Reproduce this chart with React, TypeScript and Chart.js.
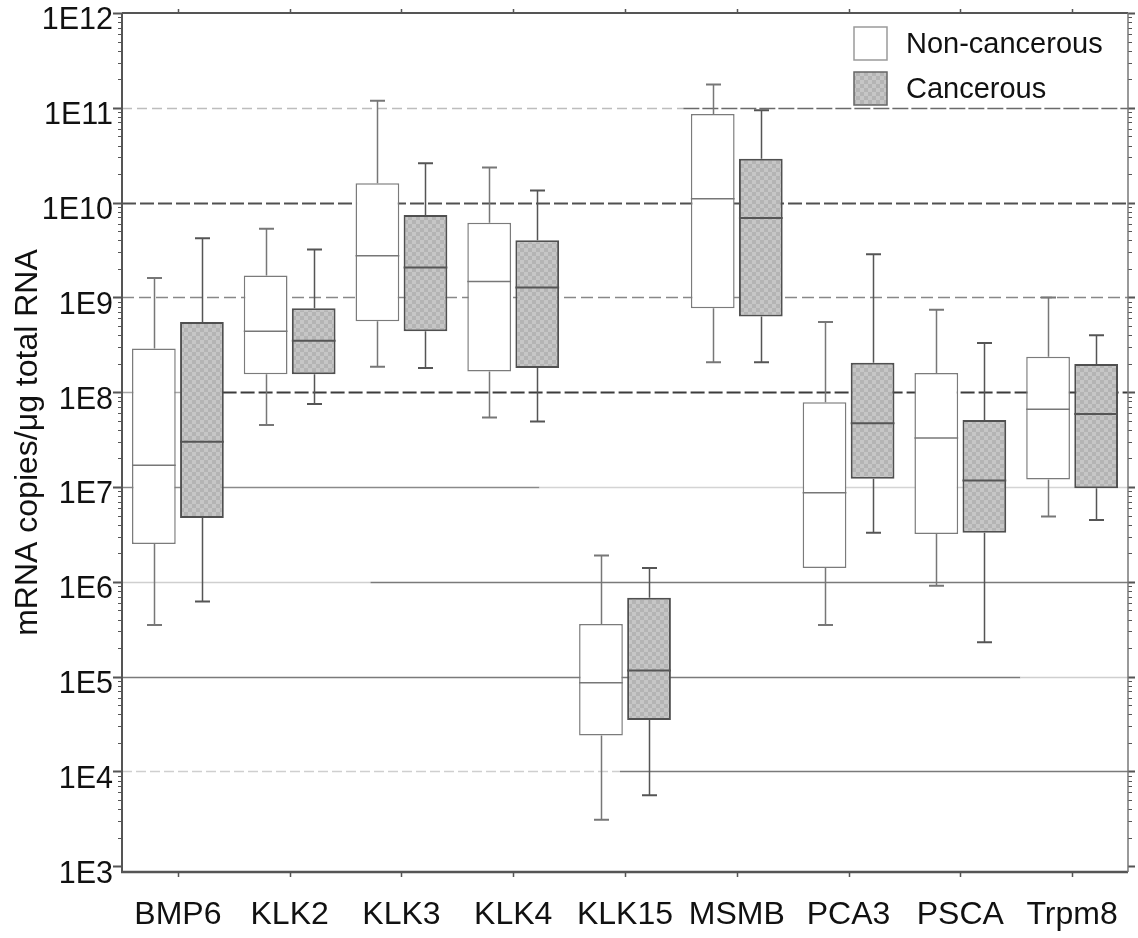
import { useEffect, useRef } from "react";
import { Chart, registerables } from "chart.js";

Chart.register(...registerables);

// ---------- data ----------
const categories = ["BMP6", "KLK2", "KLK3", "KLK4", "KLK15", "MSMB", "PCA3", "PSCA", "Trpm8"];
const seriesLabels = ["Non-cancerous", "Cancerous"];

// Non-cancerous: whisker low, Q1, median, Q3, whisker high
const nonLow = [3.5e5, 4.5e7, 1.86e8, 5.4e7, 3.1e3, 2.07e8, 3.5e5, 9.1e5, 4.9e6];
const nonQ1 = [2.5e6, 1.55e8, 5.6e8, 1.65e8, 2.4e4, 7.7e8, 1.4e6, 3.2e6, 1.2e7];
const nonMedian = [1.7e7, 4.4e8, 2.75e9, 1.47e9, 8.6e4, 1.1e10, 8.7e6, 3.3e7, 6.6e7];
const nonQ3 = [2.9e8, 1.7e9, 1.6e10, 6.15e9, 3.6e5, 8.6e10, 7.85e7, 1.6e8, 2.36e8];
const nonHigh = [1.6e9, 5.3e9, 1.19e11, 2.35e10, 1.9e6, 1.76e11, 5.5e8, 7.4e8, 1.0e9];

// Cancerous: whisker low, Q1, median, Q3, whisker high
const canLow = [6.2e5, 7.5e7, 1.8e8, 4.9e7, 5.6e3, 2.07e8, 3.3e6, 2.3e5, 4.5e6];
const canQ1 = [4.7e6, 1.55e8, 4.4e8, 1.8e8, 3.5e4, 6.3e8, 1.22e7, 3.3e6, 9.7e6];
const canMedian = [3.0e7, 3.5e8, 2.07e9, 1.27e9, 1.16e5, 6.9e9, 4.7e7, 1.17e7, 5.9e7];
const canQ3 = [5.5e8, 7.7e8, 7.4e9, 4.0e9, 6.8e5, 2.9e10, 2.05e8, 5.1e7, 1.98e8];
const canHigh = [4.2e9, 3.2e9, 2.6e10, 1.34e10, 1.4e6, 9.4e10, 2.85e9, 3.3e8, 4.0e8];

const yTickValues = [1e3, 1e4, 1e5, 1e6, 1e7, 1e8, 1e9, 1e10, 1e11, 1e12];
const yTickLabels = ["1E3", "1E4", "1E5", "1E6", "1E7", "1E8", "1E9", "1E10", "1E11", "1E12"];
const yAxisTitle = "mRNA copies/\u03bcg total RNA";
const yAxisMin = 870;
const yAxisMax = 1e12;

// ---------- styles ----------
const FONT = '"Liberation Sans", Arial, Helvetica, sans-serif';
type Seg = { from: number; to: number; color: string; dash: number[]; width: number };
const gridStyles: Record<number, Seg[]> = {
  4: [
    { from: 0, to: 0.495, color: "#cfcfcf", dash: [10, 4], width: 1.5 },
    { from: 0.495, to: 1, color: "#7a7a7a", dash: [], width: 1.5 },
  ],
  5: [
    { from: 0, to: 0.893, color: "#7a7a7a", dash: [], width: 1.5 },
    { from: 0.893, to: 1, color: "#cfcfcf", dash: [], width: 1.5 },
  ],
  6: [
    { from: 0, to: 0.247, color: "#cfcfcf", dash: [], width: 1.5 },
    { from: 0.247, to: 1, color: "#7a7a7a", dash: [], width: 1.5 },
  ],
  7: [
    { from: 0, to: 0.415, color: "#8a8a8a", dash: [], width: 1.5 },
    { from: 0.415, to: 1, color: "#d4d4d4", dash: [], width: 1.5 },
  ],
  8: [
    { from: 0, to: 0.1, color: "#a8a8a8", dash: [12, 4], width: 1.5 },
    { from: 0.1, to: 1, color: "#3c3c3c", dash: [14, 4], width: 2 },
  ],
  9: [{ from: 0, to: 1, color: "#888888", dash: [12, 5], width: 1.5 }],
  10: [{ from: 0, to: 1, color: "#505050", dash: [14, 4], width: 2 }],
  11: [
    { from: 0, to: 0.558, color: "#bdbdbd", dash: [10, 5], width: 1.5 },
    { from: 0.558, to: 1, color: "#6a6a6a", dash: [16, 3], width: 1.5 },
  ],
};

const seriesStats = [
  { low: nonLow, q1: nonQ1, median: nonMedian, q3: nonQ3, high: nonHigh, line: "#777777", lw: 1.5 },
  { low: canLow, q1: canQ1, median: canMedian, q3: canQ3, high: canHigh, line: "#555555", lw: 2 },
];

const boxDecor = {
  id: "boxDecor",
  beforeDatasetsDraw(chart: any) {
    const { ctx, chartArea, scales } = chart;
    const { left, right } = chartArea;
    const y = scales.y;
    ctx.save();
    Object.keys(gridStyles).forEach((k) => {
      const exp = Number(k);
      const py = Math.round(y.getPixelForValue(Math.pow(10, exp))) + 0.5;
      gridStyles[exp].forEach((s) => {
        ctx.beginPath();
        ctx.setLineDash(s.dash);
        ctx.strokeStyle = s.color;
        ctx.lineWidth = s.width;
        ctx.moveTo(left + s.from * (right - left), py);
        ctx.lineTo(left + s.to * (right - left), py);
        ctx.stroke();
      });
    });
    ctx.restore();
  },
  afterDatasetsDraw(chart: any) {
    const { ctx, scales } = chart;
    const y = scales.y;
    ctx.save();
    ctx.setLineDash([]);
    chart.data.datasets.forEach((_ds: any, di: number) => {
      const st = seriesStats[di];
      const meta = chart.getDatasetMeta(di);
      meta.data.forEach((el: any, i: number) => {
        const x = Math.round(el.x) + 0.5;
        const w = el.width;
        const pLow = y.getPixelForValue(st.low[i]);
        const pHigh = y.getPixelForValue(st.high[i]);
        const pMed = y.getPixelForValue(st.median[i]);
        const pQ1 = y.getPixelForValue(st.q1[i]);
        const pQ3 = y.getPixelForValue(st.q3[i]);
        ctx.strokeStyle = st.line;
        ctx.lineWidth = 1.5;
        ctx.beginPath();
        ctx.moveTo(x, pQ3);
        ctx.lineTo(x, pHigh);
        ctx.moveTo(x, pQ1);
        ctx.lineTo(x, pLow);
        ctx.stroke();
        ctx.lineWidth = 2;
        ctx.beginPath();
        ctx.moveTo(x - 7.5, pHigh);
        ctx.lineTo(x + 7.5, pHigh);
        ctx.moveTo(x - 7.5, pLow);
        ctx.lineTo(x + 7.5, pLow);
        ctx.stroke();
        ctx.lineWidth = st.lw;
        ctx.beginPath();
        ctx.moveTo(el.x - w / 2, pMed);
        ctx.lineTo(el.x + w / 2, pMed);
        ctx.stroke();
      });
    });
    ctx.restore();
  },
  afterDraw(chart: any) {
    const { ctx, chartArea, scales } = chart;
    const { left, right, top, bottom } = chartArea;
    const y = scales.y;
    const x = scales.x;
    ctx.save();
    ctx.setLineDash([]);
    // ticks on left/right axes
    for (let e = 3; e <= 12; e++) {
      for (let m = 1; m <= 9; m++) {
        const v = m * Math.pow(10, e);
        if (v > yAxisMax || v < 1e3) continue;
        const py = Math.round(y.getPixelForValue(v)) + 0.5;
        const major = m === 1;
        ctx.strokeStyle = "#555";
        ctx.lineWidth = major ? 2 : 1.2;
        ctx.beginPath();
        ctx.moveTo(left, py);
        ctx.lineTo(left - (major ? 9 : 4), py);
        ctx.moveTo(right, py);
        ctx.lineTo(right + (major ? 7 : 4), py);
        ctx.stroke();
      }
    }
    // ticks on top/bottom axes
    ctx.strokeStyle = "#555";
    ctx.lineWidth = 1.5;
    categories.forEach((_c, i) => {
      const px = Math.round(x.getPixelForTick(i)) + 0.5;
      ctx.beginPath();
      ctx.moveTo(px, bottom);
      ctx.lineTo(px, bottom + 5);
      ctx.moveTo(px, top);
      ctx.lineTo(px, top - 4);
      ctx.stroke();
    });
    // frame
    ctx.strokeStyle = "#555";
    ctx.lineWidth = 2;
    ctx.beginPath();
    ctx.moveTo(left, top);
    ctx.lineTo(right, top);
    ctx.moveTo(left, top);
    ctx.lineTo(left, bottom);
    ctx.stroke();
    ctx.lineWidth = 2.5;
    ctx.beginPath();
    ctx.moveTo(left - 1, bottom);
    ctx.lineTo(right, bottom);
    ctx.stroke();
    ctx.strokeStyle = "#777";
    ctx.lineWidth = 1.5;
    ctx.beginPath();
    ctx.moveTo(right, top);
    ctx.lineTo(right, bottom);
    ctx.stroke();
    // legend
    const bx = right - 274;
    const by = top + 14;
    const size = 33;
    chart.data.datasets.forEach((ds: any, di: number) => {
      const yy = by + di * 45;
      ctx.fillStyle = ds.backgroundColor;
      ctx.fillRect(bx, yy, size, size);
      ctx.strokeStyle = di === 0 ? "#9a9a9a" : "#666";
      ctx.lineWidth = 1.5;
      ctx.strokeRect(bx, yy, size, size);
      ctx.fillStyle = "#111";
      ctx.font = `29px ${FONT}`;
      ctx.textBaseline = "middle";
      ctx.textAlign = "left";
      ctx.fillText(ds.label, bx + 52, yy + size / 2 + 1);
    });
    ctx.restore();
  },
};

export default function App() {
  const canvasRef = useRef<HTMLCanvasElement | null>(null);

  useEffect(() => {
    document.body.style.margin = "0";
    const canvas = canvasRef.current!;
    const ctx = canvas.getContext("2d")!;

    const pc = document.createElement("canvas");
    pc.width = 8;
    pc.height = 8;
    const pctx = pc.getContext("2d")!;
    pctx.fillStyle = "#c6c6c6";
    pctx.fillRect(0, 0, 8, 8);
    pctx.fillStyle = "#b4b4b4";
    pctx.fillRect(0, 0, 4, 4);
    pctx.fillRect(4, 4, 4, 4);
    const pattern = ctx.createPattern(pc, "repeat");

    Chart.defaults.font.family = FONT;

    const chart = new Chart(canvas, {
      type: "bar",
      data: {
        labels: categories,
        datasets: [
          {
            label: seriesLabels[0],
            data: nonQ1.map((q, i) => [q, nonQ3[i]]) as any,
            backgroundColor: "#ffffff",
            borderColor: "#7b7b7b",
            borderWidth: 1.5,
            borderSkipped: false,
            categoryPercentage: 0.86,
            barPercentage: 0.91,
          },
          {
            label: seriesLabels[1],
            data: canQ1.map((q, i) => [q, canQ3[i]]) as any,
            backgroundColor: pattern as any,
            borderColor: "#505050",
            borderWidth: 2,
            borderSkipped: false,
            categoryPercentage: 0.86,
            barPercentage: 0.91,
          },
        ],
      },
      options: {
        responsive: false,
        animation: false,
        devicePixelRatio: 1,
        layout: { padding: { left: 0, right: 10, top: 13, bottom: 0 } },
        plugins: { legend: { display: false }, tooltip: { enabled: false } },
        scales: {
          x: {
            type: "category",
            offset: true,
            grid: { display: false, drawTicks: false, tickLength: 0 },
            border: { display: false },
            ticks: {
              font: { size: 32, family: FONT },
              color: "#111",
              padding: 24,
              maxRotation: 0,
              autoSkip: false,
            },
            afterFit: (s: any) => {
              s.height = 66;
              s.paddingLeft = 0;
              s.paddingRight = 0;
            },
          },
          y: {
            type: "logarithmic",
            min: yAxisMin,
            max: yAxisMax,
            grid: { display: false, drawTicks: false, tickLength: 0 },
            border: { display: false },
            afterBuildTicks: (s: any) => {
              s.ticks = yTickValues.map((v) => ({ value: v }));
            },
            ticks: {
              callback: (_v: any, index: number) => yTickLabels[index],
              font: { size: 30.5, lineHeight: 0.8, family: FONT },
              color: "#111",
              padding: 9,
              labelOffset: 8,
            },
            title: {
              display: true,
              text: yAxisTitle,
              font: { size: 32, family: FONT },
              color: "#111",
              padding: { top: 9, bottom: 0 },
            },
            afterFit: (s: any) => {
              s.width = 122;
              s.paddingTop = 0;
              s.paddingBottom = 0;
            },
          },
        },
      },
      plugins: [boxDecor],
    });
    return () => chart.destroy();
  }, []);

  return (
    <div style={{ position: "absolute", left: 0, top: 0, width: 1138, height: 938, background: "#fff" }}>
      <canvas ref={canvasRef} width={1138} height={938} style={{ display: "block" }} />
    </div>
  );
}
